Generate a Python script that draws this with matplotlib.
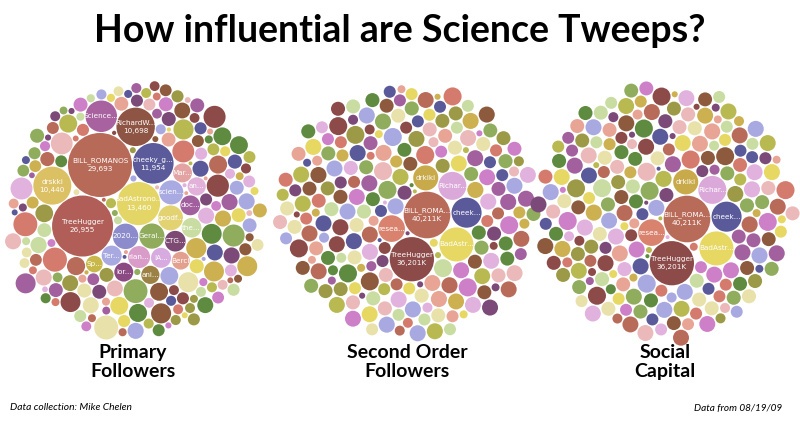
import numpy as np
import matplotlib
matplotlib.use("Agg")
import matplotlib.pyplot as plt
from matplotlib.patches import Circle
from matplotlib.collections import PatchCollection

# ---------------- data ----------------
title = "How influential are Science Tweeps?"
panel_titles = ["Primary\nFollowers", "Second Order\nFollowers", "Social\nCapital"]
footer_left = "Data collection: Mike Chelen"
footer_right = "Data from 08/19/09"

# Primary followers (labelled bubbles)
primary_names = ["BILL_ROMANOS", "TreeHugger", "BadAstrono...", "cheeky_g...", "RichardW...",
                 "drskki", "Science...", "2020...", "Geral...", "goodf...", "scien...", "rlan...",
                 "CTG...", "Ter...", "IA...", "doc...", "the...", "Mar...", "lor...", "an...",
                 "ani...", "Berci", "Sp..."]
primary_values = [29693, 26955, 13460, 11954, 10698, 10440, 7200, 4700, 4600, 4500, 4200, 3500,
                  3100, 2900, 2900, 2850, 2800, 2600, 2600, 2400, 2400, 2300, 2000]
# Primary followers (unlabelled bubbles)
primary_small = [
    2950, 1880, 3480, 1420, 2310, 1050, 4120, 1860, 730, 2870,
    1400, 2390, 460, 1830, 3550, 1010, 2330, 1440, 700, 2900,
    1870, 1060, 4210, 2280, 730, 1410, 260, 1850, 2940, 1030,
    470, 2360, 1390, 3440, 720, 1880, 1040, 2320, 450, 1430,
    2880, 710, 1060, 1840, 270, 1420, 3520, 740, 1020, 2360,
    460, 1450, 1900, 120, 1050, 700, 2920, 1400, 480, 1860,
    1030, 730, 4150, 260, 1410, 1870, 690, 1060, 2340, 470,
    1390, 110, 720, 1040, 2890, 450, 1820, 740, 1430, 250,
    1010, 3490, 710, 460, 1880, 1050, 270, 1440, 730, 2300,
    120, 1020, 480, 1860, 700, 1410, 260, 1070, 740, 4180,
    450, 1030, 250, 720, 1400, 470, 1050, 110, 730, 1850,
    260, 1040, 460, 710, 3530, 240, 1060, 480, 1420, 700,
    130, 1030, 450, 740, 1880, 270, 1010, 470, 720, 2310,
    110, 460, 1050, 250, 730, 1410, 480, 260, 1020, 700,
    2880, 120, 450, 1060, 740, 270, 1430, 460, 110, 1040,
    710, 250, 480, 1870, 130, 730, 1020, 460, 270, 700,
    1410, 240, 470, 1050, 120, 720, 450, 260, 1030, 740,
    110, 480, 1060, 250, 700, 2900, 460, 130, 710, 1020,
]

# Second order followers, in thousands (labelled bubbles)
second_names = ["BILL_ROMA...", "TreeHugger", "BadAstr...", "cheek...", "Richar...", "resea...", "drkiki"]
second_values = [40211, 36201, 21400, 16700, 14500, 13100, 11600]
# Second order followers, in thousands (unlabelled bubbles)
second_small = [
    4740, 3630, 6000, 2660, 4800, 3600, 1850, 4700, 3650, 5980,
    2640, 4760, 3620, 1180, 4720, 3660, 2680, 4780, 6050, 3610,
    4690, 2650, 3640, 4750, 670, 3590, 4730, 2670, 5950, 3620,
    4770, 1860, 3650, 4710, 2630, 3600, 4790, 3670, 1170, 4740,
    6020, 2690, 3610, 4760, 300, 3640, 4700, 2660, 3630, 1840,
    4750, 3590, 5990, 2650, 4720, 3660, 1190, 4780, 2640, 3620,
    4730, 680, 3650, 4690, 2670, 6010, 3600, 4770, 1850, 3630,
    2660, 4740, 3610, 1160, 4710, 3670, 2680, 4760, 3590, 5970,
    1870, 3640, 4720, 2650, 660, 3620, 4780, 2640, 3660, 4700,
    1830, 3600, 4750, 2690, 6030, 3650, 1180, 4730, 2660, 3610,
    4770, 310, 3630, 2670, 4690, 1860, 3590, 4740, 2650, 3670,
    1170, 4760, 3620, 2680, 5960, 3640, 4710, 1840, 2640, 3600,
    4780, 690, 3660, 2660, 4720, 3610, 1850, 4750, 2670, 3650,
    6000, 1190, 3590, 4700, 2650, 3630, 4770, 290, 2680, 3620,
    4740, 1870, 3670, 2640, 4730, 3600, 1160, 4690, 2660, 3640,
    5990, 2670, 3610, 4760, 670, 3650, 2650, 4710, 1830, 3630,
    4780, 2690, 3590, 1180, 4740, 3660, 2640, 4720, 3620, 1860,
    680, 4750, 3600, 2660, 4700, 3670, 1850, 2650, 6020, 3610,
    4770, 1170, 3640, 2680, 4730, 310, 3620, 1840, 2660, 4690,
    3650, 2640, 4760, 1190, 3600, 2670, 680, 4710, 3630, 1860,
    2650, 4740, 3590, 300, 2680, 3660, 1170, 4720, 2640, 3610,
]

# Social capital (shown identical to second order in the source)
social_names = ["BILL_ROMA...", "TreeHugger", "BadAstr...", "cheek...", "Richar...", "resea...", "drkiki"]
social_values = [40211, 36201, 21400, 16700, 14500, 13100, 11600]
social_small = list(second_small)

# ---------------- styles ----------------
PALETTE = ['#b96b5a', '#8c4a48', '#e6d862', '#cdb050', '#9c9a46', '#8fad5c', '#5f8b40',
           '#c9dda2', '#a2619e', '#cd7fc8', '#e2b2de', '#a9a9e2', '#5a5a9a', '#e8a596',
           '#ebb9b9', '#8d5a3d', '#e9e1aa', '#d57b6d', '#7b4a79', '#b9b952']

primary_colors = ['#b86a58', '#b05e57', '#e4d666', '#5b5a9b', '#8e5444', '#dcc064', '#a8629f',
                  '#8c8ccc', '#8fab5b', '#e2d272', '#aaaae3', '#d99cc9', '#7c4a72', '#a9a9e2',
                  '#d7abe0', '#a15f9d', '#c9dda2', '#e3a3a3', '#8c4a82', '#e1b1d9', '#9b8244',
                  '#e3a08f', '#c8b84a']
second_colors = ['#b96b5a', '#8c4a48', '#e6d862', '#5a5a9a', '#dba9d9', '#d9826e', '#c9aa4a']

TXT = ['DejaVu Sans']
BOLD = ['Lato', 'DejaVu Sans']


def pack(radii, center, first_offset, second_dir, gap, n_core, bias):
    """Greedy front packing: the first n_core bubbles ring the largest one
    (nudged by `bias`), the rest fill the free spot nearest the panel centre."""
    rr = np.asarray(radii, float) + gap / 2.0
    n = len(rr)
    C = np.asarray(center, float)
    bias = np.asarray(bias, float)
    X = np.zeros((n, 2))
    X[0] = C + np.asarray(first_offset, float)
    u = np.asarray(second_dir, float)
    u = u / np.linalg.norm(u)
    X[1] = X[0] + u * (rr[0] + rr[1])
    for k in range(2, n):
        r = rr[k]
        P = X[:k]
        R = rr[:k]
        T = X[0] + bias if k < n_core else C
        v = T - P
        dist = np.hypot(v[:, 0], v[:, 1])
        dist[dist == 0] = 1e-9
        c1 = P + v / dist[:, None] * (R + r)[:, None]
        dx = P[None, :, 0] - P[:, None, 0]
        dy = P[None, :, 1] - P[:, None, 1]
        D = np.hypot(dx, dy)
        A = R[:, None] + r
        B = R[None, :] + r
        mask = np.triu(D < A + B, 1) & (D > 1e-9)
        i, j = np.nonzero(mask)
        d = D[i, j]
        ux = dx[i, j] / d
        uy = dy[i, j] / d
        a = R[i] + r
        b = R[j] + r
        x = (d * d + a * a - b * b) / (2 * d)
        h2 = a * a - x * x
        ok = h2 > 0
        h = np.sqrt(np.where(ok, h2, 0))
        bx = P[i, 0] + x * ux
        by = P[i, 1] + x * uy
        c2 = np.column_stack([bx - h * uy, by + h * ux])[ok]
        c3 = np.column_stack([bx + h * uy, by - h * ux])[ok]
        cands = np.vstack([T[None, :], c1, c2, c3])
        ddx = cands[:, None, 0] - P[None, :, 0]
        ddy = cands[:, None, 1] - P[None, :, 1]
        free = np.all(ddx * ddx + ddy * ddy >= (R[None, :] + r - 1e-6) ** 2, axis=1)
        cf = cands[free]
        dc = np.hypot(cf[:, 0] - T[0], cf[:, 1] - T[1])
        X[k] = cf[np.argmin(dc)]
    return X


fig = plt.figure(figsize=(8.0, 4.21), dpi=100)
ax = fig.add_axes([0, 0, 1, 1])
ax.set_xlim(0, 800)
ax.set_ylim(421, 0)
ax.axis('off')

panels = [
    dict(names=primary_names, values=primary_values, small=primary_small, colors=primary_colors,
         per_px2=29.0, center=(135, 210), offset=(-35, -45), sdir=(-18, 63), gap=1.0,
         n_core=7, bias=(2.5, 2.5), fmt=lambda v: f"{v:,}", show=10000, cshift=3),
    dict(names=second_names, values=second_values, small=second_small, colors=second_colors,
         per_px2=74.0, center=(407, 211), offset=(20, 4), sdir=(-13, 38), gap=1.3,
         n_core=7, bias=(2.5, 2.5), fmt=lambda v: f"{v:,}K", show=30000, cshift=11),
    dict(names=social_names, values=social_values, small=social_small, colors=second_colors,
         per_px2=74.0, center=(665, 211), offset=(22, 8), sdir=(-13, 38), gap=1.3,
         n_core=7, bias=(2.5, 2.5), fmt=lambda v: f"{v:,}K", show=30000, cshift=11),
]

for p in panels:
    vals = np.array(list(p['values']) + list(p['small']), float)
    radii = np.sqrt(vals / p['per_px2'])
    cols = list(p['colors']) + [PALETTE[(i * 7 + p['cshift']) % len(PALETTE)]
                                for i in range(len(p['small']))]
    X = pack(radii, p['center'], p['offset'], p['sdir'], p['gap'], p['n_core'], p['bias'])
    patches = [Circle((X[k, 0], X[k, 1]), radii[k]) for k in range(len(vals))]
    pc = PatchCollection(patches, facecolors=cols, edgecolors='none')
    ax.add_collection(pc)
    for k, name in enumerate(p['names']):
        v = p['values'][k]
        s = name + ("\n" + p['fmt'](v) if v >= p['show'] else "")
        ax.text(X[k, 0], X[k, 1], s, ha='center', va='center', color='white',
                fontsize=5.2, family=TXT, linespacing=1.45)

ax.text(400, 31, title, ha='center', va='center', fontsize=27, fontweight='bold', family=BOLD)
for cx, t in zip([133, 407, 665], panel_titles):
    ax.text(cx, 362, t, ha='center', va='center', fontsize=14, fontweight='bold',
            family=BOLD, linespacing=1.1)
ax.text(10, 408, footer_left, ha='left', va='center', fontsize=7.4, style='italic', family=BOLD)
ax.text(782, 408, footer_right, ha='right', va='center', fontsize=7.2, style='italic', family=BOLD)

fig.savefig("out.png", dpi=100)
